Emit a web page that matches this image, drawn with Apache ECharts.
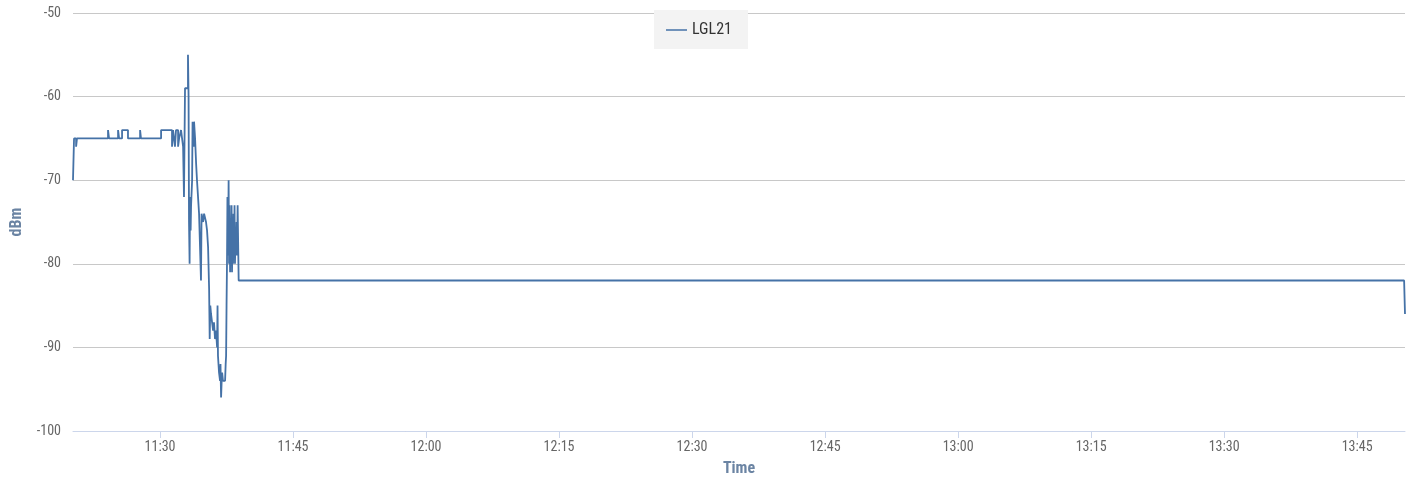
<!DOCTYPE html>
<html>
<head>
<meta charset="utf-8">
<script src="https://cdn.jsdelivr.net/npm/echarts@6/dist/echarts.min.js"></script>
<style>
html,body{margin:0;padding:0;background:#fff;}
#chart{width:1415px;height:478px;}
</style>
</head>
<body>
<div id="chart"></div>
<script>
// ---- data ----
const seriesName = 'LGL21';
const times = [
 '11:20:11','11:20:18','11:20:32','11:20:38','11:24:08','11:24:15','11:25:16','11:25:23','11:25:43','11:26:23',
 '11:27:45','11:27:51','11:30:07','11:31:21','11:31:28','11:31:41','11:31:48','11:32:02','11:32:09','11:32:22',
 '11:32:29','11:32:36','11:32:42','11:32:49','11:33:09','11:33:13','11:33:16','11:33:20','11:33:23','11:33:27',
 '11:33:30','11:33:37','11:33:40','11:33:47','11:33:50','11:33:57','11:34:04','11:34:10','11:34:17','11:34:24',
 '11:34:37','11:34:41','11:34:51','11:34:58','11:35:11','11:35:18','11:35:25','11:35:32','11:35:36','11:35:40',
 '11:35:45','11:35:52','11:35:59','11:36:05','11:36:12','11:36:19','11:36:26','11:36:29','11:36:32','11:36:39',
 '11:36:46','11:36:49','11:36:53','11:36:57','11:37:00','11:37:06','11:37:20','11:37:24','11:37:27','11:37:30',
 '11:37:33','11:37:36','11:37:40','11:37:44','11:37:47','11:37:50','11:37:54','11:37:57','11:38:00','11:38:04',
 '11:38:07','11:38:11','11:38:14','11:38:17','11:38:21','11:38:24','11:38:27','11:38:31','11:38:34','11:38:38',
 '11:38:41','11:38:45','11:38:52','13:50:18','13:50:24'
];
const values = [
 -70,-65,-66,-65,-64,-65,-64,-65,-64,-65,
 -64,-65,-64,-66,-64,-66,-64,-66,-65,-64,
 -65,-66,-72,-59,-55,-60,-75,-80,-72,-76,
 -73,-70,-63,-66,-63,-65,-68,-70,-72,-74,
 -82,-74,-75,-74,-75,-76,-78,-83,-89,-85,
 -86,-87,-88,-87,-89,-88,-90,-85,-91,-93,
 -94,-92,-96,-94,-93,-94,-94,-92,-91,-85,
 -80,-72,-79,-70,-80,-73,-81,-75,-80,-73,
 -81,-76,-80,-74,-79,-73,-80,-76,-79,-75,
 -79,-73,-82,-82,-86
];
const xStart = '11:20:11';
const xEnd = '13:50:24';
const xTickLabels = ['11:30','11:45','12:00','12:15','12:30','12:45','13:00','13:15','13:30','13:45'];
const yMin = -100, yMax = -50, yStep = 10;

// ---- helpers ----
function toMin(s){const p=s.split(':').map(Number);return p[0]*60+p[1]+(p[2]||0)/60;}
function fmt(v){const h=Math.floor(v/60+1e-9);const m=Math.round(v-h*60);return h+':'+(m<10?'0':'')+m;}
const data = times.map((t,i)=>[toMin(t),values[i]]);
const tickVals = xTickLabels.map(toMin);

const FONT = '"Roboto Condensed","Liberation Sans Narrow","Roboto",sans-serif';
const chart = echarts.init(document.getElementById('chart'));
chart.setOption({
  animation:false,
  backgroundColor:'#ffffff',
  textStyle:{fontFamily:FONT},
  legend:{
    left:654, top:10,
    padding:[12,16,11,12],
    backgroundColor:'#f3f3f3',
    icon:'rect', itemWidth:21, itemHeight:1.5, itemGap:10,
    textStyle:{fontFamily:FONT,fontSize:16,color:'#333'},
    data:[seriesName]
  },
  grid:{left:73,right:10,top:13,bottom:47,containLabel:false,outerBoundsMode:'none'},
  xAxis:{
    type:'value',
    min:toMin(xStart), max:toMin(xEnd),
    name:'Time', nameLocation:'middle', nameGap:30,
    nameTextStyle:{fontFamily:FONT,fontSize:16,fontWeight:'bold',color:'#6b84a3'},
    axisLine:{show:true,lineStyle:{color:'#ccd6eb',width:1}},
    axisTick:{show:true,length:7,lineStyle:{color:'#ccd6eb'},customValues:tickVals},
    axisLabel:{customValues:tickVals,formatter:v=>fmt(v),fontFamily:FONT,fontSize:14,color:'#666',margin:9},
    splitLine:{show:false}
  },
  yAxis:{
    type:'value', min:yMin, max:yMax, interval:yStep,
    name:'dBm', nameLocation:'middle', nameGap:48, nameRotate:90,
    nameTextStyle:{fontFamily:FONT,fontSize:16,fontWeight:'bold',color:'#6b84a3'},
    axisLine:{show:false}, axisTick:{show:false},
    axisLabel:{fontFamily:FONT,fontSize:14,color:'#666',margin:12},
    splitLine:{show:true,lineStyle:{color:'#c8c8c8',width:1}}
  },
  series:[{
    name:seriesName, type:'line', step:'end', data:data,
    symbol:'none', showSymbol:false,
    lineStyle:{color:'#4572a7',width:1.8},
    itemStyle:{color:'#4572a7'}
  }]
});
</script>
</body>
</html>
